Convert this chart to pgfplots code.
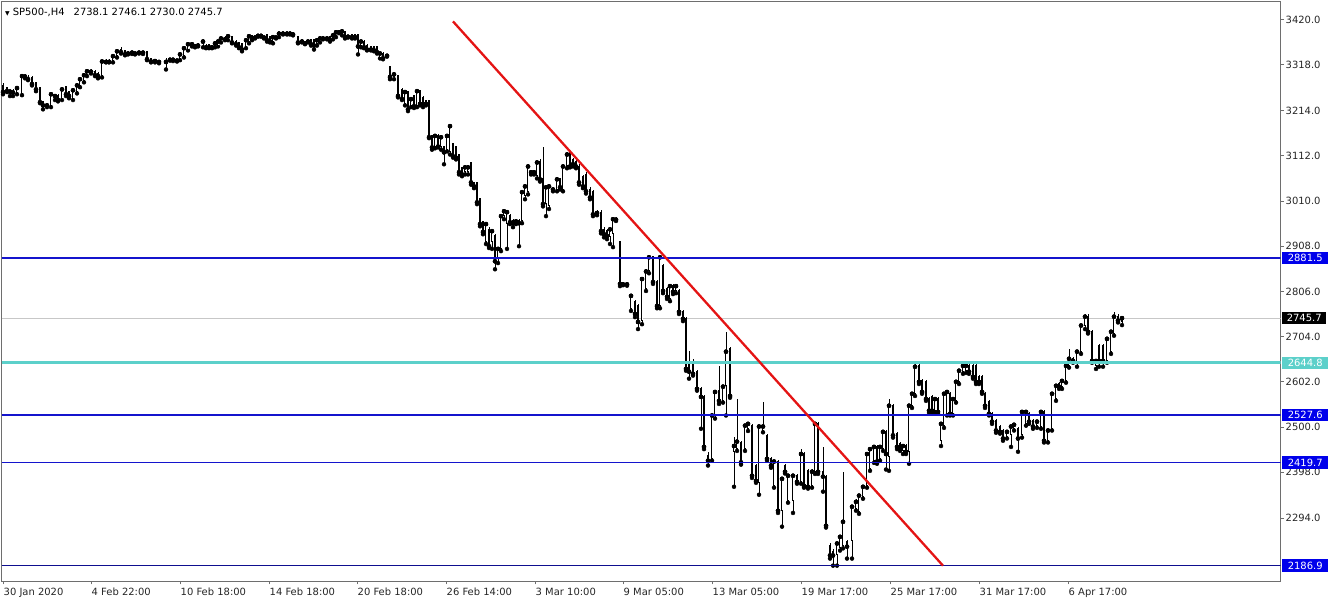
\documentclass[border=0pt]{standalone}
\usepackage{pgfplots}
\pgfplotsset{compat=1.18}
\usepackage{pgfplotstable}
\usepackage{fontspec}
\setmainfont{DejaVu Sans}
\newcommand\fs{\fontsize{10}{12}\selectfont}
\definecolor{boxblue}{RGB}{0,0,235}
\definecolor{lineblue}{RGB}{20,20,205}
\definecolor{turq}{RGB}{92,208,202}
\definecolor{mtred}{RGB}{228,20,20}
\definecolor{framegray}{RGB}{110,110,110}

% w = 1 for a rising (hollow) candle, 0 for a falling one
\pgfplotstableread{
pos open high low close w
3 3271 3276 3251 3256 0
7 3265 3267 3256 3258 0
10 3258 3260 3247 3257 0
13 3256 3262 3247 3255 0
17 3253 3267 3251 3265 1
22 3251 3294 3249 3292 1
25 3292 3296 3287 3291 0
28 3289 3294 3283 3285 0
32 3289 3292 3271 3274 0
36 3276 3278 3258 3262 0
40 3265 3267 3231 3233 0
43 3233 3235 3217 3226 0
47 3227 3231 3222 3226 0
51 3224 3253 3222 3251 1
55 3240 3251 3238 3247 1
58 3247 3251 3235 3238 0
62 3240 3265 3238 3262 1
66 3267 3269 3247 3251 0
69 3256 3258 3242 3247 0
73 3240 3262 3238 3260 1
77 3256 3274 3253 3271 1
80 3269 3287 3267 3285 1
84 3280 3298 3278 3294 1
87 3294 3307 3292 3303 1
91 3303 3307 3298 3302 0
95 3301 3305 3292 3294 0
98 3298 3301 3287 3292 0
102 3292 3328 3289 3325 1
106 3325 3330 3323 3324 0
109 3327 3330 3323 3324 0
113 3325 3339 3323 3337 1
117 3337 3350 3334 3348 1
121 3352 3357 3343 3346 0
125 3348 3350 3339 3341 0
128 3344 3348 3341 3343 0
132 3346 3348 3342 3345 0
135 3344 3347 3341 3343 0
139 3346 3349 3343 3345 0
143 3346 3348 3342 3345 0
147 3346 3348 3328 3330 0
151 3332 3334 3323 3325 0
155 3327 3330 3323 3326 0
159 3325 3328 3321 3324 0
166 3325 3334 3307 3324 0
170 3330 3333 3327 3329 0
173 3330 3333 3326 3329 0
177 3328 3331 3325 3327 0
180 3330 3343 3328 3341 1
184 3337 3357 3334 3355 1
188 3352 3366 3350 3364 1
192 3366 3368 3359 3364 0
195 3360 3364 3357 3359 0
198 3362 3366 3359 3361 0
203 3371 3375 3357 3370 0
206 3361 3364 3355 3357 0
209 3362 3364 3355 3357 0
212 3359 3361 3355 3357 0
215 3359 3368 3357 3366 1
218 3361 3373 3359 3370 1
221 3370 3380 3368 3377 1
225 3377 3382 3373 3375 0
228 3375 3384 3373 3382 1
232 3380 3382 3366 3368 0
236 3370 3373 3361 3364 0
239 3368 3370 3355 3357 0
242 3364 3366 3348 3352 0
246 3357 3375 3355 3373 1
249 3368 3384 3366 3382 1
252 3382 3384 3373 3375 0
255 3380 3382 3377 3379 0
258 3384 3386 3381 3383 0
261 3384 3386 3381 3383 0
264 3380 3382 3377 3379 0
267 3384 3386 3370 3373 0
270 3380 3382 3368 3370 0
273 3368 3382 3366 3380 1
276 3380 3383 3377 3379 0
279 3382 3391 3380 3388 1
283 3389 3391 3386 3388 0
287 3389 3392 3386 3388 0
290 3388 3391 3386 3388 0
293 3387 3390 3384 3386 0
298 3380 3382 3366 3368 0
302 3373 3375 3368 3370 0
305 3368 3370 3364 3366 0
308 3371 3373 3368 3370 0
311 3373 3375 3361 3364 0
314 3373 3375 3352 3361 0
317 3364 3375 3361 3373 1
320 3370 3380 3368 3377 1
323 3378 3380 3375 3377 0
327 3378 3381 3375 3377 0
330 3380 3382 3370 3373 0
333 3377 3386 3375 3384 1
336 3382 3393 3380 3391 1
339 3392 3395 3389 3391 0
342 3386 3395 3384 3393 1
345 3391 3393 3377 3380 0
348 3383 3385 3379 3381 0
352 3386 3388 3377 3380 0
355 3384 3386 3377 3380 0
358 3386 3388 3341 3359 0
361 3359 3373 3357 3370 1
364 3370 3373 3355 3357 0
367 3361 3364 3350 3352 0
371 3359 3361 3350 3352 0
374 3359 3361 3348 3350 0
377 3357 3359 3343 3346 0
380 3334 3346 3332 3343 1
383 3343 3346 3330 3332 0
387 3339 3341 3336 3338 0
390 3312 3314 3285 3290 0
394 3290 3298 3285 3296 1
398 3292 3294 3244 3247 0
402 3262 3265 3238 3240 0
405 3229 3258 3226 3256 1
408 3256 3258 3213 3217 0
411 3224 3242 3222 3240 1
414 3247 3249 3220 3224 0
417 3224 3260 3222 3258 1
420 3258 3260 3226 3229 0
423 3244 3247 3222 3229 0
426 3235 3238 3226 3229 0
429 3235 3238 3152 3154 0
432 3157 3159 3126 3131 0
435 3133 3159 3129 3157 1
438 3157 3161 3131 3133 0
441 3133 3157 3126 3154 1
444 3133 3135 3093 3120 0
447 3126 3159 3122 3157 1
450 3120 3184 3115 3179 1
453 3138 3140 3108 3111 0
456 3133 3135 3104 3108 0
459 3115 3117 3070 3075 0
462 3086 3088 3066 3070 0
465 3075 3088 3070 3086 1
468 3075 3090 3070 3086 1
471 3097 3099 3047 3052 0
474 3052 3054 3039 3043 0
477 3052 3054 3003 3007 0
480 3014 3016 2953 2958 0
483 2962 2965 2935 2940 0
486 2917 2962 2913 2958 1
489 2946 2951 2904 2908 0
492 2917 2946 2902 2942 1
495 2931 2935 2856 2874 0
498 2879 2906 2870 2902 1
501 2902 2980 2897 2976 1
504 2976 2992 2969 2987 1
507 2958 2987 2902 2985 1
510 2976 2980 2958 2962 0
513 2965 2969 2951 2960 0
516 2965 2969 2958 2964 0
519 2965 2969 2908 2960 0
522 2965 3032 2960 3030 1
525 3021 3045 3014 3043 1
528 3030 3093 3025 3088 1
531 3076 3080 3070 3075 0
534 3076 3079 3070 3075 0
537 3066 3099 3061 3097 1
540 3099 3104 3054 3059 0
543 3059 3133 2998 3003 0
546 3003 3045 2976 3041 1
549 2998 3047 2992 3043 1
553 3037 3041 3032 3036 0
557 3036 3063 3032 3059 1
560 3059 3063 3036 3041 0
563 3036 3093 3032 3088 1
567 3088 3120 3084 3115 1
570 3120 3124 3086 3088 0
573 3104 3108 3088 3093 0
576 3099 3104 3084 3088 0
579 3088 3093 3047 3052 0
583 3064 3068 3039 3043 0
586 3070 3075 3027 3032 0
590 3036 3041 3014 3018 0
593 3030 3034 2976 2980 0
597 2984 2989 2978 2983 0
601 2984 2989 2937 2942 0
604 2946 2951 2928 2935 0
607 2942 2946 2924 2931 0
610 2928 2951 2913 2946 1
613 2935 2973 2906 2969 1
616 2969 2973 2965 2968 0
620 2917 2919 2818 2823 0
623 2823 2826 2820 2822 0
627 2823 2825 2819 2822 0
631 2767 2800 2762 2796 1
635 2782 2787 2748 2755 0
638 2773 2777 2721 2737 0
642 2740 2836 2732 2834 1
646 2812 2856 2807 2851 1
649 2851 2887 2847 2883 1
653 2883 2887 2823 2827 0
657 2827 2831 2768 2773 0
660 2773 2887 2768 2883 1
663 2863 2867 2802 2807 0
667 2812 2816 2789 2794 0
670 2789 2823 2784 2818 1
673 2818 2823 2800 2805 0
676 2807 2823 2802 2818 1
679 2807 2812 2755 2760 0
683 2760 2764 2739 2744 0
686 2744 2748 2627 2631 0
689 2647 2672 2609 2625 0
693 2647 2654 2616 2620 0
697 2625 2629 2582 2586 0
701 2586 2591 2496 2568 0
704 2568 2572 2450 2455 0
708 2435 2444 2413 2424 0
712 2428 2530 2424 2526 1
715 2526 2584 2519 2579 1
719 2582 2638 2552 2559 0
723 2559 2595 2555 2591 1
726 2593 2715 2526 2670 1
730 2676 2681 2566 2570 0
734 2444 2478 2365 2457 1
737 2450 2564 2446 2467 1
741 2465 2469 2415 2420 0
745 2450 2507 2446 2503 1
748 2496 2512 2491 2507 1
752 2503 2507 2385 2390 0
756 2413 2417 2374 2378 0
759 2374 2505 2347 2501 1
763 2492 2557 2488 2501 1
767 2481 2485 2424 2428 0
771 2428 2433 2408 2413 0
774 2367 2426 2363 2422 1
778 2422 2426 2306 2311 0
782 2311 2387 2275 2383 1
785 2413 2417 2395 2399 0
788 2333 2394 2329 2390 1
793 2333 2394 2306 2390 1
797 2390 2394 2372 2376 0
801 2376 2450 2372 2439 1
804 2439 2444 2363 2367 0
808 2401 2406 2361 2365 0
812 2367 2406 2363 2399 1
815 2399 2512 2394 2507 1
818 2507 2512 2394 2399 0
823 2399 2455 2354 2388 0
826 2388 2392 2273 2277 0
830 2232 2237 2203 2210 0
833 2219 2224 2187 2210 0
837 2210 2241 2187 2237 1
840 2226 2257 2221 2252 1
843 2232 2399 2226 2286 1
847 2241 2246 2203 2230 0
852 2243 2324 2203 2320 1
856 2315 2338 2311 2331 1
859 2309 2349 2304 2345 1
863 2342 2370 2338 2365 1
867 2367 2444 2363 2439 1
870 2406 2455 2401 2450 1
874 2424 2460 2419 2455 1
877 2455 2460 2417 2422 0
880 2428 2460 2424 2455 1
883 2450 2494 2446 2489 1
886 2489 2494 2404 2439 0
889 2433 2564 2401 2548 1
893 2548 2552 2476 2481 0
897 2485 2489 2450 2455 0
900 2462 2467 2446 2450 0
903 2446 2462 2439 2457 1
906 2457 2462 2439 2444 0
909 2444 2552 2417 2548 1
912 2548 2579 2543 2575 1
915 2575 2642 2570 2636 1
919 2638 2642 2597 2602 0
922 2604 2609 2575 2579 0
926 2602 2606 2559 2563 0
929 2563 2568 2532 2537 0
932 2568 2572 2532 2537 0
935 2537 2568 2532 2563 1
938 2563 2568 2530 2534 0
941 2469 2512 2457 2507 1
944 2503 2579 2498 2575 1
947 2530 2584 2526 2579 1
950 2575 2579 2526 2530 0
953 2530 2568 2526 2563 1
956 2559 2606 2555 2602 1
959 2602 2631 2597 2627 1
963 2625 2642 2620 2638 1
966 2627 2642 2622 2638 1
969 2638 2642 2620 2625 0
973 2638 2642 2609 2613 0
976 2638 2642 2597 2602 0
979 2613 2618 2597 2602 0
982 2613 2618 2575 2579 0
985 2575 2579 2543 2548 0
989 2557 2561 2526 2530 0
992 2530 2534 2507 2512 0
996 2514 2519 2487 2492 0
1000 2501 2505 2485 2489 0
1003 2492 2496 2469 2474 0
1007 2478 2494 2474 2489 1
1011 2481 2505 2455 2501 1
1014 2496 2510 2492 2505 1
1018 2496 2501 2444 2474 0
1022 2481 2539 2476 2534 1
1026 2507 2539 2503 2534 1
1029 2530 2534 2507 2512 0
1033 2514 2519 2496 2501 0
1037 2503 2516 2498 2512 1
1041 2501 2539 2496 2534 1
1044 2534 2539 2465 2469 0
1048 2469 2496 2465 2492 1
1052 2496 2579 2492 2575 1
1056 2563 2597 2559 2593 1
1059 2597 2602 2586 2591 0
1062 2591 2609 2586 2604 1
1066 2604 2642 2600 2638 1
1069 2638 2676 2634 2654 1
1073 2654 2658 2645 2649 0
1077 2647 2674 2636 2670 1
1081 2670 2733 2665 2729 1
1085 2727 2756 2721 2749 1
1088 2749 2754 2711 2715 0
1092 2715 2719 2645 2649 0
1096 2638 2654 2631 2649 1
1099 2683 2688 2636 2649 0
1103 2683 2688 2636 2649 0
1107 2649 2703 2645 2699 1
1111 2670 2719 2665 2715 1
1114 2710 2760 2706 2749 1
1118 2749 2754 2736 2740 0
1122 2738.1 2746.1 2730.0 2745.7 1
}\candles

\pgfplotsset{
  candle/.style 2 args={forget plot, only marks, mark=none,
    error bars/.cd, y dir=#1, y explicit, error mark=none,
    error bar style={#2, solid}, /pgfplots/.cd},
}

\begin{document}
\begin{tikzpicture}
\useasboundingbox (-1.5bp,-22bp) rectangle (1330.5bp,581bp);
\begin{axis}[
  at={(0,0)}, anchor=south west,
  scale only axis, width=1279bp, height=580bp,
  xmin=1.5, xmax=1280.5, ymin=2152.35, ymax=3461.6,
  clip mode=individual,
  axis line style={draw=framegray, line width=0.8bp},
  tick style={draw=framegray, line width=0.8bp},
  tick align=outside, major tick length=3.5bp,
  xtick pos=left, ytick pos=right, yticklabel pos=right,
  xtick={3,91,180,269,357,446,535,623,712,801,890,979,1068},
  xticklabels={30 Jan 2020,4 Feb 22:00,10 Feb 18:00,14 Feb 18:00,20 Feb 18:00,26 Feb 14:00,3 Mar 10:00,9 Mar 05:00,13 Mar 05:00,19 Mar 17:00,25 Mar 17:00,31 Mar 17:00,6 Apr 17:00},
  xticklabel style={font=\fs, anchor=north west, inner sep=0pt, xshift=0.5bp, yshift=-3bp, text=black!85},
  ytick={3420,3318,3214,3112,3010,2908,2806,2704,2602,2500,2398,2294},
  yticklabels={3420.0,3318.0,3214.0,3112.0,3010.0,2908.0,2806.0,2704.0,2602.0,2500.0,2398.0,2294.0},
  yticklabel style={font=\fs, anchor=west, inner sep=0pt, xshift=1.5bp, text=black!85},
]
% current price line
\addplot[forget plot, color=black!22, line width=0.8bp] coordinates {(1.5,2745.7) (1280.5,2745.7)};
% wicks
\addplot[candle={plus}{black, line width=0.9bp}]
  table[x=pos, y=low, y error plus expr={\thisrow{high}-\thisrow{low}}] {\candles};
% bodies: up from the close for falling candles, down from the close for rising ones
\addplot[candle={both}{black, line width=2.7bp}]
  table[x=pos, y=close,
    y error plus expr={(\thisrow{open}-\thisrow{close}+2)*(1-\thisrow{w})},
    y error minus expr={(\thisrow{close}-\thisrow{open})*\thisrow{w}}] {\candles};
% hollow inside of rising candles
\addplot[candle={minus}{white, line width=1.0bp}]
  table[x=pos, y=close, y error minus expr={(\thisrow{close}-\thisrow{open}-2.3)*\thisrow{w}}] {\candles};
% upper edge of rising candles
\addplot[candle={minus}{black, line width=2.7bp}]
  table[x=pos, y=close, y error minus expr={2.3*\thisrow{w}}] {\candles};
% horizontal levels
\addplot[forget plot, color=lineblue, line width=1.6bp] coordinates {(1.5,2881.5) (1280.5,2881.5)};
\addplot[forget plot, color=lineblue, line width=1.6bp] coordinates {(1.5,2527.6) (1280.5,2527.6)};
\addplot[forget plot, color=lineblue, line width=1.6bp] coordinates {(1.5,2419.7) (1280.5,2419.7)};
\addplot[forget plot, color=lineblue!70!black, line width=1.6bp] coordinates {(1.5,2186.9) (1280.5,2186.9)};
\addplot[forget plot, color=turq, line width=2.7bp] coordinates {(1.5,2644.8) (1280.5,2644.8)};
% trend line
\addplot[forget plot, color=mtred, line width=2.3bp] coordinates {(453,3415.5) (943,2186.9)};
% header
\node[anchor=west, inner sep=0pt, font=\fs, text=black] at (axis cs:5,3436.5)
  {{\fontsize{6}{6}\selectfont ▼}\hspace{3bp}SP500-,H4\hspace{9bp}2738.1 2746.1 2730.0 2745.7};
% price boxes
\node[anchor=west, fill=boxblue, text=white, font=\fs, inner sep=0pt, minimum width=46bp, minimum height=12.5bp] at (axis cs:1282,2881.5) {2881.5};
\node[anchor=west, fill=black, text=white, font=\fs, inner sep=0pt, minimum width=44bp, minimum height=12.5bp] at (axis cs:1282,2745.7) {2745.7};
\node[anchor=west, fill=turq, text=white, font=\fs, inner sep=0pt, minimum width=46bp, minimum height=12.5bp] at (axis cs:1282,2644.8) {2644.8};
\node[anchor=west, fill=boxblue, text=white, font=\fs, inner sep=0pt, minimum width=46bp, minimum height=12.5bp] at (axis cs:1282,2527.6) {2527.6};
\node[anchor=west, fill=boxblue, text=white, font=\fs, inner sep=0pt, minimum width=46bp, minimum height=12.5bp] at (axis cs:1282,2419.7) {2419.7};
\node[anchor=west, fill=boxblue, text=white, font=\fs, inner sep=0pt, minimum width=46bp, minimum height=12.5bp] at (axis cs:1282,2186.9) {2186.9};
\end{axis}
\end{tikzpicture}
\end{document}
